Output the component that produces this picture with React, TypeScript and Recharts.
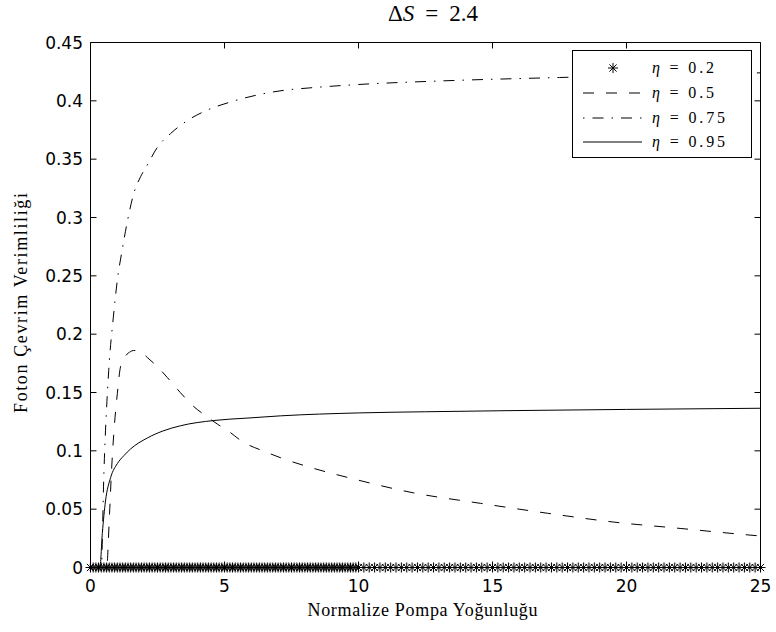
import { ComposedChart, Line, Scatter, XAxis, YAxis, Legend } from 'recharts';

const TICK_FONT = '"DejaVu Sans", Arial, sans-serif';
const SERIF = '"Liberation Serif", "Times New Roman", serif';

const xTicks = [0, 5, 10, 15, 20, 25];
const yTicks = [0, 0.05, 0.1, 0.15, 0.2, 0.25, 0.3, 0.35, 0.4, 0.45];

// eta = 0.2: sits on zero over the whole pump grid
const eta02X = [
  0, 0.1, 0.2, 0.3, 0.4, 0.5, 0.6, 0.7, 0.8, 0.9,
  1, 1.1, 1.2, 1.3, 1.4, 1.5, 1.6, 1.7, 1.8, 1.9,
  2, 2.1, 2.2, 2.3, 2.4, 2.5, 2.6, 2.7, 2.8, 2.9,
  3, 3.1, 3.2, 3.3, 3.4, 3.5, 3.6, 3.7, 3.8, 3.9,
  4, 4.1, 4.2, 4.3, 4.4, 4.5, 4.6, 4.7, 4.8, 4.9,
  5, 5.1, 5.2, 5.3, 5.4, 5.5, 5.6, 5.7, 5.8, 5.9,
  6, 6.1, 6.2, 6.3, 6.4, 6.5, 6.6, 6.7, 6.8, 6.9,
  7, 7.1, 7.2, 7.3, 7.4, 7.5, 7.6, 7.7, 7.8, 7.9,
  8, 8.1, 8.2, 8.3, 8.4, 8.5, 8.6, 8.7, 8.8, 8.9,
  9, 9.1, 9.2, 9.3, 9.4, 9.5, 9.6, 9.7, 9.8, 9.9,
  10, 10.2, 10.4, 10.6, 10.8, 11, 11.2, 11.4, 11.6, 11.8,
  12, 12.2, 12.4, 12.6, 12.8, 13, 13.2, 13.4, 13.6, 13.8,
  14, 14.2, 14.4, 14.6, 14.8, 15, 15.2, 15.4, 15.6, 15.8,
  16, 16.2, 16.4, 16.6, 16.8, 17, 17.2, 17.4, 17.6, 17.8,
  18, 18.2, 18.4, 18.6, 18.8, 19, 19.2, 19.4, 19.6, 19.8,
  20, 20.2, 20.4, 20.6, 20.8, 21, 21.2, 21.4, 21.6, 21.8,
  22, 22.2, 22.4, 22.6, 22.8, 23, 23.2, 23.4, 23.6, 23.8,
  24, 24.2, 24.4, 24.6, 24.8, 25,
];

const eta05X = [0, 0.6, 0.71, 0.78, 0.87, 1.0, 1.12, 1.3, 1.49, 1.6, 1.75, 1.93, 2.12, 2.5, 2.86, 3.35, 3.85, 4.3, 4.73, 5.2, 5.6, 6.6, 7.1, 8.1, 9.8, 12.05, 14.55, 17.05, 19.5, 22, 24.5, 25];
const eta05Y = [0, 0, 0.046, 0.081, 0.115, 0.149, 0.172, 0.181, 0.185, 0.186, 0.1858, 0.184, 0.18, 0.172, 0.163, 0.15, 0.138, 0.13, 0.123, 0.116, 0.109, 0.0985, 0.094, 0.0865, 0.076, 0.064, 0.055, 0.0465, 0.039, 0.0335, 0.028, 0.027];

const eta075X = [0, 0.4, 0.5, 0.68, 0.85, 1.0, 1.18, 1.37, 1.62, 1.87, 2.12, 2.49, 2.99, 3.61, 4.35, 5.22, 6.22, 7.21, 8.13, 10, 13, 17.5, 21, 25];
const eta075Y = [0, 0, 0.081, 0.169, 0.214, 0.246, 0.272, 0.296, 0.321, 0.335, 0.345, 0.36, 0.372, 0.383, 0.392, 0.399, 0.405, 0.409, 0.411, 0.414, 0.417, 0.42, 0.422, 0.424];

const eta095X = [0, 0.35, 0.44, 0.56, 0.75, 1.0, 1.25, 1.49, 2.12, 2.7, 3.36, 4.6, 5.8, 7.1, 10, 12.5, 15.8, 20, 25];
const eta095Y = [0, 0, 0.029, 0.057, 0.077, 0.089, 0.096, 0.1015, 0.111, 0.117, 0.1215, 0.126, 0.128, 0.13, 0.1325, 0.1335, 0.1345, 0.1355, 0.1365];

const legendLabels = ['0.2', '0.5', '0.75', '0.95'];

const rows = (xs: number[], ys: number[]) => xs.map((x, i) => ({ x, y: ys[i] }));

const DASHED = '11 12';
const DASH_DOT = '11 8 1.5 8';
const TICK_LEN = 6;

function Asterisk({ cx, cy }: { cx?: number; cy?: number }) {
  if (cx == null || cy == null) return null;
  const r = 5;
  const d = r * 0.72;
  return (
    <g stroke="#000" strokeWidth={1}>
      <line x1={cx - r} y1={cy} x2={cx + r} y2={cy} />
      <line x1={cx} y1={cy - r} x2={cx} y2={cy + r} />
      <line x1={cx - d} y1={cy - d} x2={cx + d} y2={cy + d} />
      <line x1={cx - d} y1={cy + d} x2={cx + d} y2={cy - d} />
    </g>
  );
}

function LegendBox() {
  const rowY = [18, 43, 68, 92];
  const widths = [62, 62, 73, 73];
  return (
    <svg width={181} height={109} style={{ display: 'block' }}>
      <rect x={0.5} y={0.5} width={179} height={107} fill="#fff" stroke="#000" />
      {rowY.map((y, i) => (
        <g key={i}>
          {i === 0 && <Asterisk cx={41} cy={y} />}
          {i === 1 && <line x1={11} y1={y} x2={70} y2={y} stroke="#000" strokeDasharray={DASHED} />}
          {i === 2 && <line x1={11} y1={y} x2={70} y2={y} stroke="#000" strokeDasharray="1.5 8 11 8" />}
          {i === 3 && <line x1={11} y1={y} x2={70} y2={y} stroke="#000" />}
          <text x={80} y={y + 5} fontFamily={SERIF} fontSize={16} textLength={widths[i]} lengthAdjust="spacing">
            <tspan fontStyle="italic">η</tspan> = {legendLabels[i]}
          </text>
        </g>
      ))}
    </svg>
  );
}

// inward MATLAB-style ticks, drawn at the coordinates the axis hands us
const BOTTOM_MARGIN = 12;
const LEFT_MARGIN = 7.5;

function BottomTick(p: any) {
  const axisY = p.y - BOTTOM_MARGIN;
  return (
    <g>
      <line x1={p.x} x2={p.x} y1={axisY} y2={axisY - TICK_LEN} stroke="#000" />
      <text x={p.x} y={p.y} dy="0.71em" textAnchor="middle" fontFamily={TICK_FONT} fontSize={17} fill="#000">
        {p.payload.value}
      </text>
    </g>
  );
}

function LeftTick(p: any) {
  const axisX = p.x + LEFT_MARGIN;
  return (
    <g>
      <line x1={axisX} x2={axisX + TICK_LEN} y1={p.y} y2={p.y} stroke="#000" />
      <text x={p.x} y={p.y} dy="0.355em" textAnchor="end" fontFamily={TICK_FONT} fontSize={17} fill="#000">
        {p.payload.value}
      </text>
    </g>
  );
}

function TopTick(p: any) {
  return <line x1={p.x} x2={p.x} y1={p.y} y2={p.y + TICK_LEN} stroke="#000" />;
}

function RightTick(p: any) {
  return <line x1={p.x - TICK_LEN} x2={p.x} y1={p.y} y2={p.y} stroke="#000" />;
}

export default function App() {
  return (
    <div style={{ position: 'absolute', left: 0, top: 0, width: 776, height: 632, background: '#fff' }}>
      <svg width={776} height={40} style={{ position: 'absolute', left: 0, top: 0 }}>
        <text x={388} y={21} fontFamily={SERIF} fontSize={23} fill="#000">
          Δ<tspan fontStyle="italic">S</tspan>
          <tspan dx={11}>=</tspan>
          <tspan dx={11}>2.4</tspan>
        </text>
      </svg>
      <ComposedChart width={776} height={632} margin={{ top: 41.5, right: 14.5, bottom: 0, left: 0 }}>
        <XAxis
          xAxisId={0}
          dataKey="x"
          type="number"
          domain={[0, 25]}
          ticks={xTicks}
          height={64.5}
          tickSize={0}
          tickMargin={BOTTOM_MARGIN}
          tickLine={false}
          tick={<BottomTick />}
          axisLine={{ stroke: '#000' }}
          label={(p: any) => {
            const vb = p.viewBox;
            return (
              <text x={vb.x + vb.width / 2 - 3} y={vb.y + 48} textAnchor="middle" fontFamily={SERIF} fontSize={18} textLength={230} lengthAdjust="spacing">
                Normalize Pompa Yoğunluğu
              </text>
            );
          }}
        />
        <XAxis
          xAxisId="top"
          orientation="top"
          dataKey="x"
          type="number"
          domain={[0, 25]}
          ticks={xTicks}
          height={1}
          tickSize={0}
          tickMargin={0}
          tickLine={false}
          tick={<TopTick />}
          axisLine={{ stroke: '#000' }}
        />
        <YAxis
          yAxisId={0}
          type="number"
          domain={[0, 0.45]}
          ticks={yTicks}
          width={90.5}
          tickSize={0}
          tickMargin={LEFT_MARGIN}
          tickLine={false}
          tick={<LeftTick />}
          axisLine={{ stroke: '#000' }}
          label={(p: any) => {
            const vb = p.viewBox;
            const cy = vb.y + vb.height / 2 - 2;
            return (
              <text x={26.5} y={cy} transform={`rotate(-90 26.5 ${cy})`} textAnchor="middle" fontFamily={SERIF} fontSize={18} textLength={220} lengthAdjust="spacing">
                Foton Çevrim Verimliliği
              </text>
            );
          }}
        />
        <YAxis
          yAxisId="right"
          orientation="right"
          type="number"
          domain={[0, 0.45]}
          ticks={yTicks}
          width={1}
          tickSize={0}
          tickMargin={0}
          tickLine={false}
          tick={<RightTick />}
          axisLine={{ stroke: '#000' }}
        />
        <Line data={rows(eta05X, eta05Y)} dataKey="y" type="monotone" stroke="#000" strokeWidth={1} strokeDasharray={DASHED} dot={false} isAnimationActive={false} name="η = 0.5" />
        <Line data={rows(eta075X, eta075Y)} dataKey="y" type="monotone" stroke="#000" strokeWidth={1} strokeDasharray={DASH_DOT} dot={false} isAnimationActive={false} name="η = 0.75" />
        <Line xAxisId="top" yAxisId="right" data={rows(eta095X, eta095Y)} dataKey="y" type="monotone" stroke="#000" strokeWidth={1} dot={false} isAnimationActive={false} name="η = 0.95" />
        <Scatter data={eta02X.map((x) => ({ x, y: 0 }))} dataKey="y" shape={(p: any) => <Asterisk cx={p.cx} cy={p.cy} />} isAnimationActive={false} name="η = 0.2" />
        <Legend
          layout="horizontal"
          verticalAlign="middle"
          align="center"
          content={() => <LegendBox />}
          wrapperStyle={{ left: 572, top: 50, width: 181, height: 109 }}
        />
      </ComposedChart>
    </div>
  );
}
